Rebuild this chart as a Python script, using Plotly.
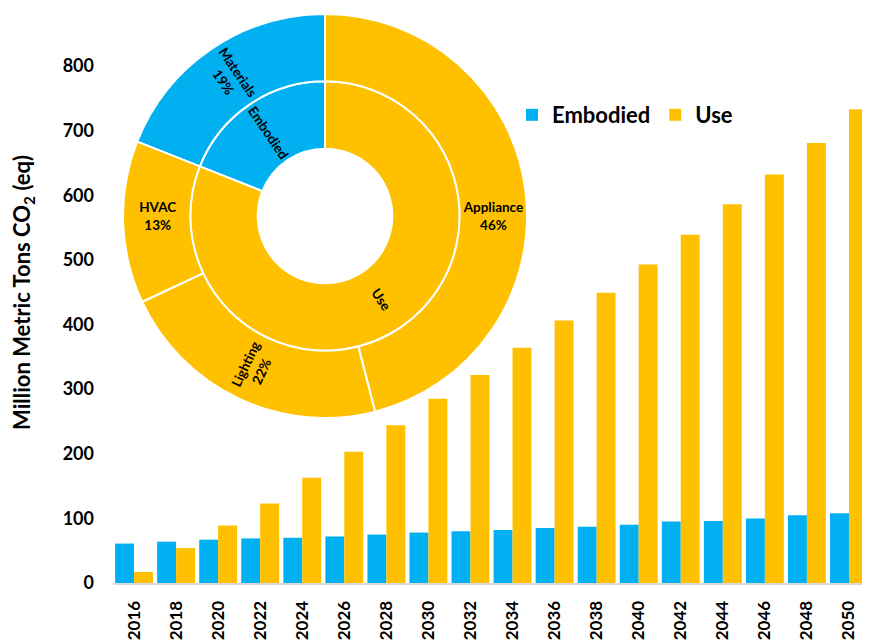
import math
import plotly.graph_objects as go

years = ["2016", "2018", "2020", "2022", "2024", "2026", "2028", "2030", "2032",
         "2034", "2036", "2038", "2040", "2042", "2044", "2046", "2048", "2050"]
embodied = [61, 64, 67, 69, 70, 72, 75, 78, 80, 82, 85, 87, 90, 95, 96, 100, 105, 108]
use = [17, 54, 89, 123, 163, 203, 244, 285, 322, 364, 406, 449, 493, 539, 586, 632, 681, 733]

sb_ids = ["total", "Embodied", "Use", "Materials", "HVAC", "Lighting", "Appliance"]
sb_labels = ["", "Embodied", "Use", "Materials", "HVAC", "Lighting", "Appliance"]
sb_parents = ["", "total", "total", "Embodied", "Use", "Use", "Use"]
sb_values = [100, 19, 81, 19, 13, 22, 46]
y_ticks = [0, 100, 200, 300, 400, 500, 600, 700, 800]

BLUE = "#00B0F0"
GOLD = "#FFC000"
FONT = "Lato"

# page body has an 8px margin; work in reference pixels minus 8
OFF = 8
W, H = 870 - OFF, 642 - OFF
ML = 113 - OFF
MR = 0
MT = 0
MB = 642 - 583
plot_w = W - ML - MR
plot_h = H - MT - MB
y_top_px = 66 - OFF
y_dom_top = (plot_h - (y_top_px - MT)) / plot_h


def px_x(x):
    return (x - OFF - ML) / plot_w


def px_y(y):
    return (plot_h - (y - OFF - MT)) / plot_h


fig = go.Figure()
fig.add_trace(go.Bar(x=years, y=embodied, name="Embodied", marker_color=BLUE,
                     marker_line_width=0))
fig.add_trace(go.Bar(x=years, y=use, name="Use", marker_color=GOLD,
                     marker_line_width=0))

colors = []
templates = []
for i, p in zip(sb_ids, sb_parents):
    if p == "":
        colors.append("white")
        templates.append("")
    elif p == "total":
        colors.append(BLUE if i == "Embodied" else GOLD)
        templates.append("<b>%{label}</b>" if i != "Use" else "")
    else:
        colors.append(BLUE if p == "Embodied" else GOLD)
        templates.append("<b>%{label}<br>%{percentRoot:.0%}</b>")

cx, cy, r = 325, 216, 202
fig.add_trace(go.Sunburst(
    ids=sb_ids, labels=sb_labels, parents=sb_parents, values=sb_values,
    branchvalues="total", sort=False, rotation=90,
    marker=dict(colors=colors, line=dict(color="white", width=2)),
    leaf=dict(opacity=1),
    texttemplate=templates, insidetextorientation="radial",
    insidetextfont=dict(family=FONT, size=13.5, color="black"),
    domain=dict(x=[px_x(cx - r), px_x(cx + r)], y=[px_y(cy + r), px_y(cy - r)]),
    hoverinfo="label+percent root",
))

# "Use" label of inner ring, placed radially at the sector's mid angle
top_vals = [v for v, p in zip(sb_values, sb_parents) if p == "total"]
tot = sum(top_vals)
start = top_vals[0] / tot
mid = 2 * math.pi * (start + top_vals[1] / tot / 2)
rad = 101
ux, uy = -math.sin(mid), -math.cos(mid)  # screen coords (y down)
use_angle = math.degrees(math.atan2(uy, ux))

fig.update_layout(
    width=W, height=H,
    margin=dict(l=ML, r=MR, t=MT, b=MB, autoexpand=False),
    paper_bgcolor="white", plot_bgcolor="white",
    barmode="group", bargap=0.1, bargroupgap=0,
    font=dict(family=FONT, color="black"),
    legend=dict(orientation="h", x=px_x(512), y=px_y(115), xanchor="left",
                yanchor="middle",
                font=dict(family=FONT, size=22, color="black", weight="bold"),
                itemsizing="constant", traceorder="normal", bgcolor="rgba(0,0,0,0)"),
    xaxis=dict(type="category", range=[-0.5, len(years) - 0.5], tickangle=-90,
               automargin=False,
               showgrid=False, showline=True, linecolor="#D9D9D9", linewidth=2,
               ticks="", ticklabelstandoff=9,
               tickfont=dict(family=FONT, size=17, color="black", weight="bold")),
    yaxis=dict(domain=[0, y_dom_top], range=[0, 800], tickvals=y_ticks,
               automargin=False,
               showgrid=False, zeroline=False, showline=False, ticks="",
               ticklabelstandoff=18,
               tickfont=dict(family=FONT, size=18, color="black", weight="bold")),
    annotations=[
        dict(text="<b>Million Metric Tons CO<sub>2</sub> (eq)</b>",
             xref="paper", yref="paper", textangle=-90,
             x=px_x(23), y=px_y(293),
             xanchor="center", yanchor="middle", showarrow=False,
             font=dict(family=FONT, size=22, color="black")),
        dict(text="<b>Use</b>", xref="paper", yref="paper",
             x=px_x(cx + rad * ux), y=px_y(cy + rad * uy),
             textangle=use_angle, xanchor="center", yanchor="middle",
             showarrow=False, font=dict(family=FONT, size=13.5, color="black")),
    ],
)

fig.write_html("out.html")
